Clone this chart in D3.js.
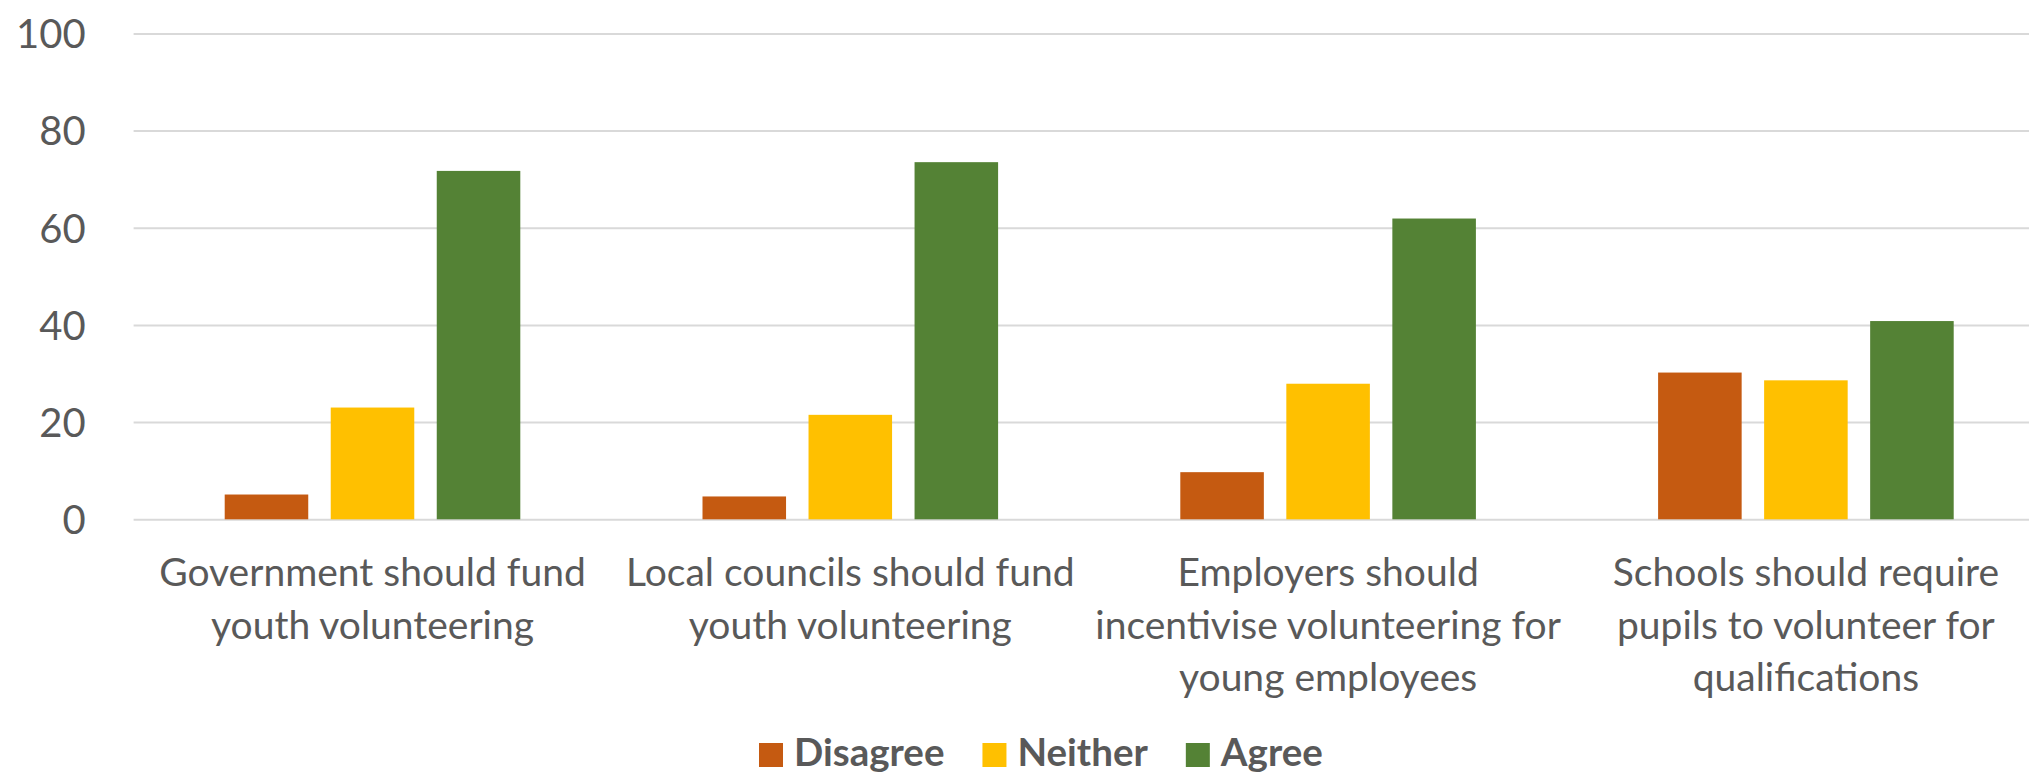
<!DOCTYPE html>
<html>
<head>
<meta charset="utf-8">
<script src="https://cdn.jsdelivr.net/npm/d3@7"></script>
<style>
    html, body { margin: 0; padding: 0; background: #fff; }
    svg { display: block; }
</style>
</head>
<body>
<svg id="chart" width="2029" height="775"></svg>
<script>
// Chart data
const categories = [
    "Government should fund youth volunteering",
    "Local councils should fund youth volunteering",
    "Employers should incentivise volunteering for young employees",
    "Schools should require pupils to volunteer for qualifications"
]
// How the category labels wrap onto lines
const categoryLines = [
    ["Government should fund", "youth volunteering"],
    ["Local councils should fund", "youth volunteering"],
    ["Employers should", "incentivise volunteering for", "young employees"],
    ["Schools should require", "pupils to volunteer for", "qualifications"]
]
const seriesNames = ["Disagree", "Neither", "Agree"]
const disagree = [5.1, 4.7, 9.7, 30.2]
const neither = [23.0, 21.5, 27.9, 28.6]
const agree = [71.7, 73.5, 61.9, 40.8]
const yTicks = [0, 20, 40, 60, 80, 100]
const seriesColors = ["#C55A11", "#FFC000", "#548235"]

const seriesValues = [disagree, neither, agree]

const svg = d3.select("#chart")
const fontFamily = "Lato, Carlito, Calibri, sans-serif"
const textColor = "#595959"
const gridColor = "#d9d9d9"

// Plot area (the right edge runs a little past the picture, as in the reference)
const plot = { left: 133.6, right: 2044.8, top: 33.4, bottom: 519.3 }

const x0 = d3.scaleBand()
    .domain(categories)
    .range([plot.left, plot.right])
    .paddingInner(0)
    .paddingOuter(0)

const groupHalf = 147.8
const x1 = d3.scaleBand()
    .domain(seriesNames)
    .range([-groupHalf, groupHalf])
    .paddingInner(0.212)
    .paddingOuter(0)

const y = d3.scaleLinear()
    .domain([0, 100])
    .range([plot.bottom, plot.top])

const color = d3.scaleOrdinal().domain(seriesNames).range(seriesColors)

// Y axis with gridlines
const yAxis = svg.append("g")
    .attr("transform", `translate(${plot.left},0)`)
    .call(d3.axisLeft(y)
        .tickValues(yTicks)
        .tickSize(-(plot.right - plot.left))
        .tickPadding(48))
    .attr("font-family", fontFamily)
    .attr("font-size", 40)
yAxis.select(".domain").remove()
yAxis.selectAll(".tick line")
    .attr("stroke", gridColor)
    .attr("stroke-width", 2)
yAxis.selectAll(".tick text")
    .attr("fill", textColor)
    .attr("dy", "0.36em")

// Bars
const groups = svg.append("g")
    .selectAll("g")
    .data(categories)
    .join("g")
    .attr("transform", d => `translate(${x0(d) + x0.bandwidth() / 2},0)`)

groups.selectAll("rect")
    .data((d, i) => seriesNames.map((s, j) => ({ series: s, value: seriesValues[j][i] })))
    .join("rect")
    .attr("x", d => x1(d.series))
    .attr("width", x1.bandwidth())
    .attr("y", d => y(d.value))
    .attr("height", d => y(0) - y(d.value))
    .attr("fill", d => color(d.series))

// X axis, labels only, wrapped onto several lines
const xAxis = svg.append("g")
    .attr("transform", `translate(0,${plot.bottom})`)
    .call(d3.axisBottom(x0).tickSize(0))
    .attr("font-family", fontFamily)
    .attr("font-size", 39)
xAxis.select(".domain").remove()
xAxis.selectAll(".tick text")
    .attr("fill", textColor)
    .attr("y", 0)
    .attr("dy", null)
    .text(null)
    .each(function (d) {
        const lines = categoryLines[categories.indexOf(d)]
        d3.select(this).selectAll("tspan")
            .data(lines)
            .join("tspan")
            .attr("x", 0)
            .attr("y", (l, k) => 67 + k * 52.5)
            .text(l => l)
    })

// Legend
const legend = svg.append("g")
    .attr("transform", "translate(759,743)")
    .attr("font-family", fontFamily)
let legendX = 0
seriesNames.forEach(name => {
    const item = legend.append("g").attr("transform", `translate(${legendX},0)`)
    item.append("rect")
        .attr("width", 24)
        .attr("height", 24)
        .attr("fill", color(name))
    const label = item.append("text")
        .attr("x", 35)
        .attr("y", 23)
        .attr("fill", textColor)
        .attr("font-size", 38.5)
        .attr("font-weight", "bold")
        .text(name)
    legendX += 35 + label.node().getComputedTextLength() + 38
})
</script>
</body>
</html>
